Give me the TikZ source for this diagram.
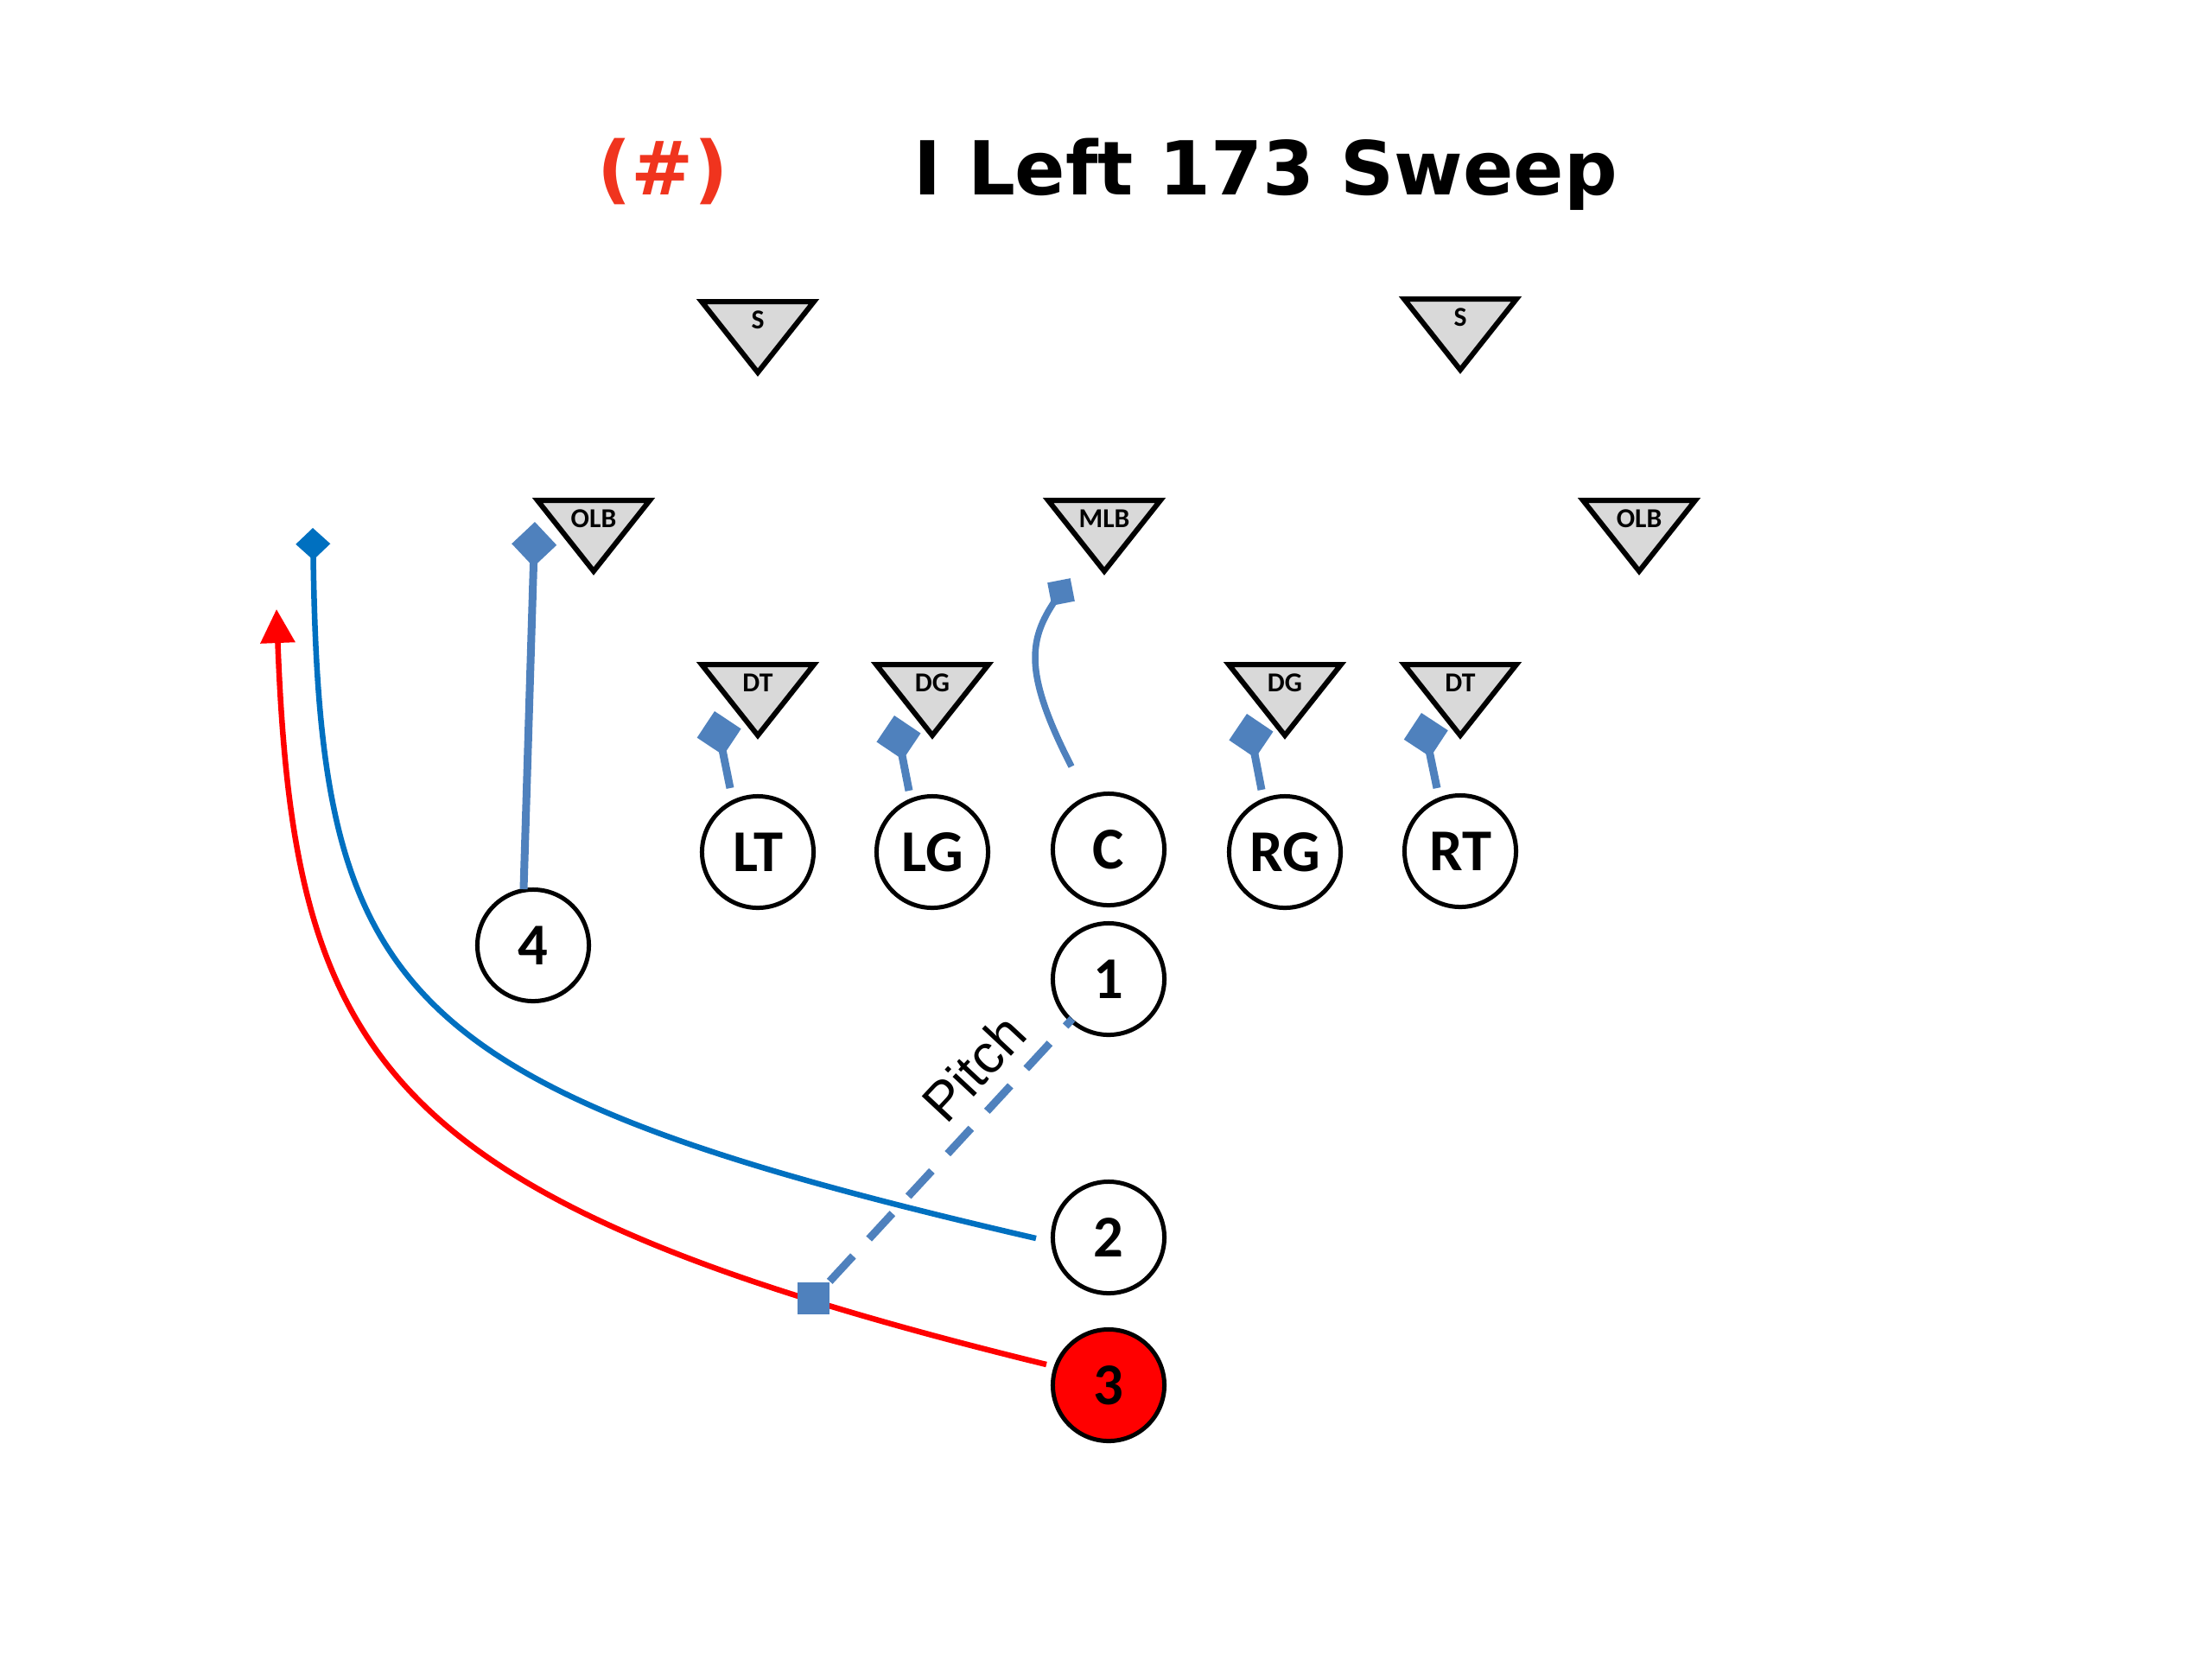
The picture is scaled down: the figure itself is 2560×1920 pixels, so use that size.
\documentclass[tikz,border=0pt]{standalone}
\usepackage{fontspec}
\setmainfont{Carlito}
\newfontfamily\titlefont{DejaVu Sans}
\newfontfamily\pitchfont{Liberation Sans}
\usetikzlibrary{arrows.meta}
\definecolor{blk}{HTML}{4F81BD}
\definecolor{rtblue}{HTML}{0070C0}
\definecolor{rtred}{HTML}{FF0000}
\definecolor{ttlred}{RGB}{240,52,30}
\definecolor{defgray}{HTML}{D9D9D9}
\newcommand\deftri[4]{%
  \draw[defshape] ({#2-65},{#3+3}) -- ({#2+65},{#3+3}) -- ({#2},{#3+85}) -- cycle;
  \node[deflbl] (#1) at ({#2},{#3+24}) {#4};}
\begin{document}
\begin{tikzpicture}[x=0.01cm,y=-0.01cm,
  player/.style={circle,draw=black,line width=0.05cm,fill=white,minimum size=1.29cm,inner sep=0pt,
    font=\bfseries\fontsize{19.5}{19.5}\selectfont},
  defshape/.style={draw=black,fill=defgray,line width=0.06cm,line join=miter},
  deflbl/.style={inner sep=0pt,font=\bfseries\fontsize{9}{9}\selectfont},
  blockline/.style={draw=blk,line width=0.09cm,-{Turned Square[length=0.52cm,width=0.52cm]}},
  blocksq/.style={fill=blk,draw=none,minimum size=0.27cm,inner sep=0pt},
  pitchsq/.style={fill=blk,draw=none,minimum size=0.37cm,inner sep=0pt},
  pitchline/.style={draw=blk,line width=0.09cm,dash pattern=on 0.4cm off 0.27cm},
  route2/.style={draw=rtblue,line width=0.065cm,-{Turned Square[length=0.37cm,width=0.4cm]}},
  route3/.style={draw=rtred,line width=0.065cm,-{Triangle[length=0.39cm,width=0.39cm]}},
  titlestyle/.style={font=\titlefont\bfseries\fontsize{24.5}{24.5}\selectfont,inner sep=0pt,anchor=base}
]
\useasboundingbox (0,0) rectangle (2560,1920);

% title
\node[titlestyle,text=ttlred] (num) at (767,225) {(\#)};
\node[titlestyle] (title) at (1465,225) {I Left 173 Sweep};

% defense
\deftri{S1}{877}{346}{S}
\deftri{S2}{1690}{343}{S}
\deftri{OLBL}{687}{576}{OLB}
\deftri{MLB}{1278}{576}{MLB}
\deftri{OLBR}{1897}{576}{OLB}
\deftri{DTL}{877}{766}{DT}
\deftri{DGL}{1079}{766}{DG}
\deftri{DGR}{1487}{766}{DG}
\deftri{DTR}{1690}{766}{DT}

% offense
\node[player] (LT) at (877,986) {LT};
\node[player] (LG) at (1079,986) {LG};
\node[player] (C) at (1283,983) {C};
\node[player] (RG) at (1487,986) {RG};
\node[player] (RT) at (1690,985) {RT};
\node[player] (n4) at (617,1094) {4};
\node[player] (n1) at (1283,1133) {1};
\node[player] (n2) at (1283,1432) {2};
\node[player,fill=rtred] (n3) at (1283,1603) {3};

% blocks
\draw[blockline] ([shift={(-32,-74)}]LT.center) -- ([shift={(-50,-163)}]LT.center);
\draw[blockline] ([shift={(-27,-71)}]LG.center) -- ([shift={(-44,-158)}]LG.center);
\draw[blockline] ([shift={(-27,-72)}]RG.center) -- ([shift={(-44,-160)}]RG.center);
\draw[blockline] ([shift={(-27,-73)}]RT.center) -- ([shift={(-45,-160)}]RT.center);
\draw[blockline] ([shift={(-11,-65)}]n4.center) -- ([shift={(2,-490)}]n4.center);

% center to MLB
\node[blocksq,rotate=11] (csq) at (1228,685) {};
\draw[draw=blk,line width=0.075cm] ([shift={(-43,-96)}]C.center) .. controls (1180,770) and (1192,735) .. (csq.center);

% routes
\draw[route2] ([shift={(-84,1)}]n2.center) .. controls (450,1260) and (370,1150) .. (362,611);
\draw[route3] ([shift={(-72,-24)}]n3.center) .. controls (440,1390) and (340,1230) .. (320,705);

% pitch
\node[pitchsq] (psq) at (941,1502) {};
\draw[pitchline] (psq.north east) -- ([shift={(-42,46)}]n1.center);
\node[rotate=47,inner sep=0pt,font=\pitchfont\fontsize{18}{18}\selectfont] (pitchlbl) at (1127,1236) {Pitch};
\end{tikzpicture}
\end{document}
